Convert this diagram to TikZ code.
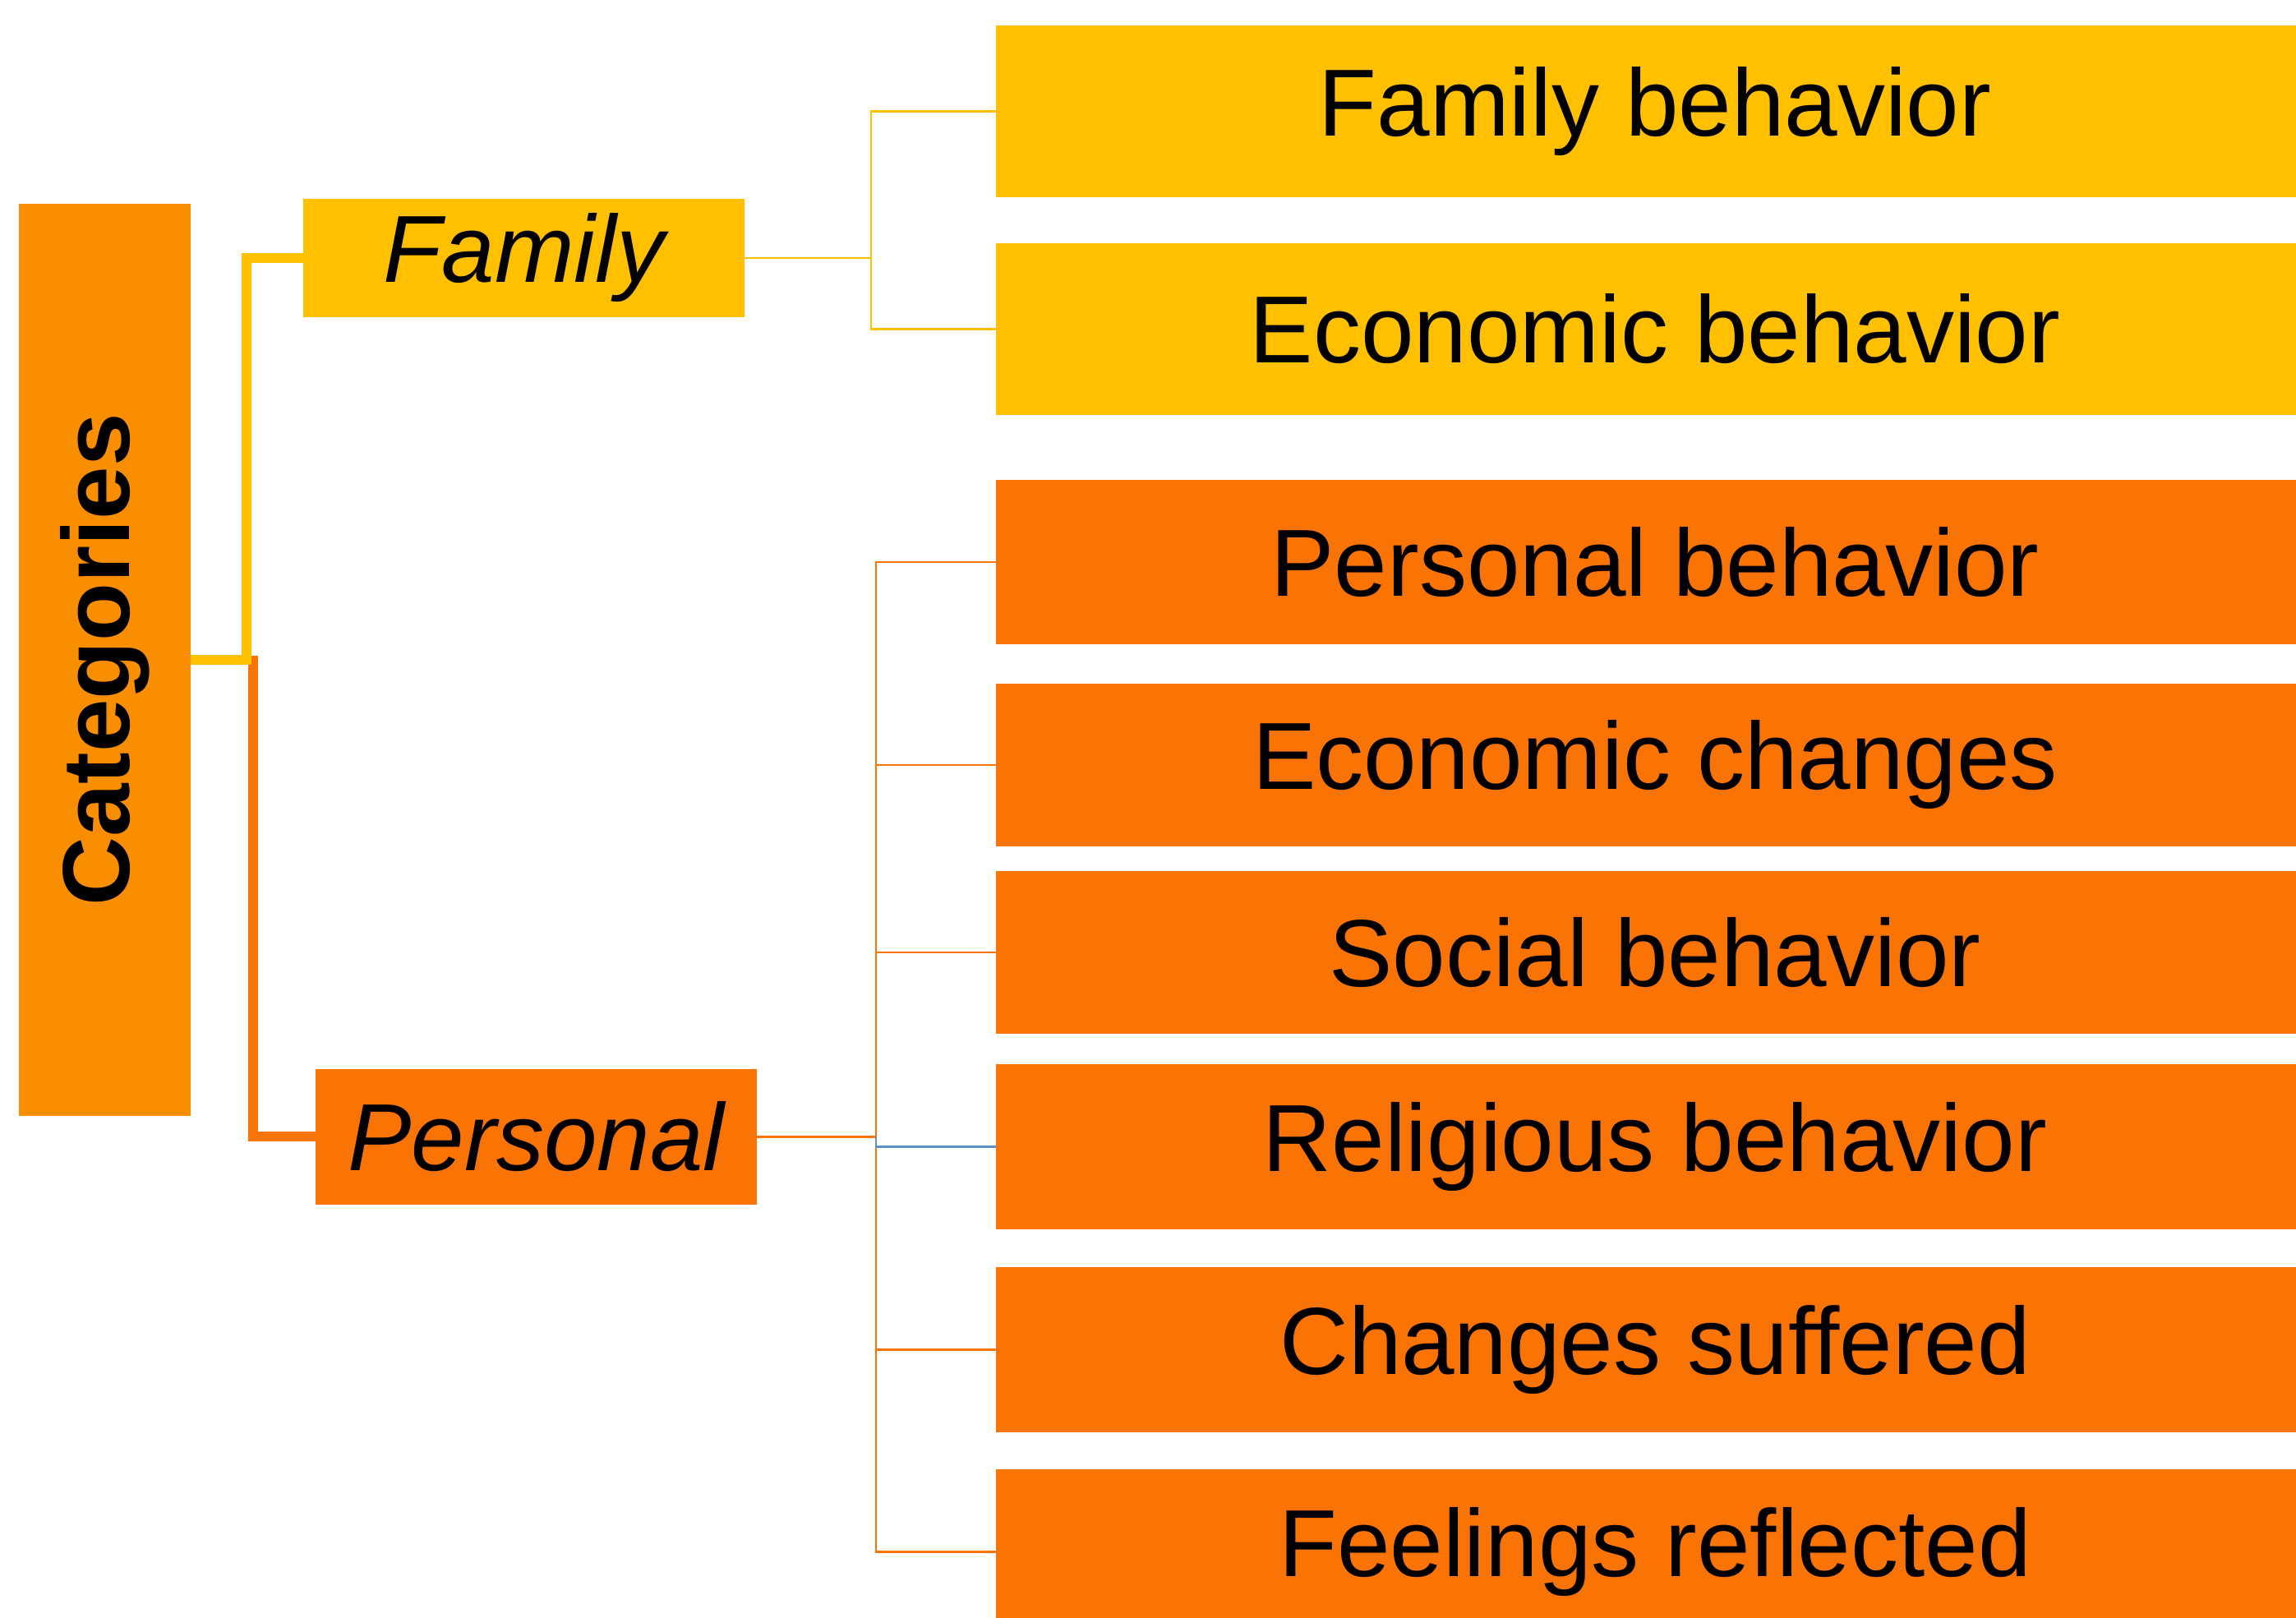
\documentclass[tikz,border=0pt]{standalone}
\usepackage{fontspec}
\setmainfont{Liberation Sans}
\usepackage{tikz}
\definecolor{catorange}{RGB}{249,143,0}
\definecolor{famyellow}{RGB}{255,192,0}
\definecolor{perorange}{RGB}{250,116,5}
\definecolor{linkblue}{RGB}{91,146,204}
\tikzstyle{box}=[rectangle,inner sep=0pt,outer sep=0pt,font=\fontsize{33}{40}\selectfont]
\tikzstyle{catbox}=[box,fill=catorange,minimum width=2.09cm,minimum height=11.10cm]
\tikzstyle{famhead}=[box,fill=famyellow,minimum width=5.37cm,minimum height=1.44cm]
\tikzstyle{perhead}=[box,fill=perorange,minimum width=5.37cm,minimum height=1.65cm]
\tikzstyle{fambox}=[box,fill=famyellow,minimum width=16.04cm,minimum height=2.09cm]
\tikzstyle{perbox}=[box,fill=perorange,minimum width=16.04cm,minimum height=2.0cm]
\tikzstyle{famlink}=[draw=famyellow,line width=0.12cm]
\tikzstyle{perlink}=[draw=perorange,line width=0.12cm]
\tikzstyle{famedge}=[draw=famyellow,line width=0.7pt]
\tikzstyle{peredge}=[draw=perorange,line width=0.7pt]
\tikzstyle{blueedge}=[draw=linkblue,line width=0.8pt]
\usetikzlibrary{positioning}

\begin{document}
\begin{tikzpicture}
            \useasboundingbox (0,0) rectangle (27.94,19.69);
            \clip (0,0) rectangle (27.94,19.69);

            % CATEGORIES

            \node[catbox] (cat) at (1.275,11.66) {\rotatebox{90}{\bfseries Categories}};
            \node[famhead] (fam) at (6.375,16.55) {\itshape Family};
            \node[perhead] (per) at (6.525,5.855) {\itshape Personal};

            \coordinate (fk) at (3.00,16.55);
            \coordinate (pk) at (3.08,11.71);
            \draw[perlink] (pk) |- (per.west);
            \draw[famlink] (cat.east) -| (fk) -- (fam.west);

            % FAMILY PART

            \node[fambox,anchor=north west] (f1) at (12.12,19.38) {Family behavior};
            \node[fambox,below=0.56cm of f1] (f2) {Economic behavior};

            \coordinate (fj) at (10.60,16.55);
            \draw[famedge] (fam.east) -- (fj);
            \draw[famedge] (fj) |- (f1.west);
            \draw[famedge] (fj) |- (f2.west);

            % PERSONAL PART

            \node[perbox,below=0.79cm of f2] (p1) {Personal behavior};
            \node[perbox,below=0.48cm of p1,minimum height=1.98cm] (p2) {Economic changes};
            \node[perbox,below=0.30cm of p2,minimum height=1.98cm] (p3) {Social behavior};
            \node[perbox,below=0.37cm of p3,minimum height=2.01cm] (p4) {Religious behavior};
            \node[perbox,below=0.46cm of p4,minimum height=2.01cm] (p5) {Changes suffered};
            \node[perbox,below=0.45cm of p5,minimum height=2.01cm] (p6) {Feelings reflected};

            \coordinate (pj) at (10.66,5.855);
            \draw[peredge] (per.east) -- (pj);
            \foreach \n in {p1,p2,p3,p5,p6}
                \draw[peredge] (pj) |- (\n.west);
            \draw[blueedge] (pj) |- (p4.west);

\end{tikzpicture}
\end{document}
